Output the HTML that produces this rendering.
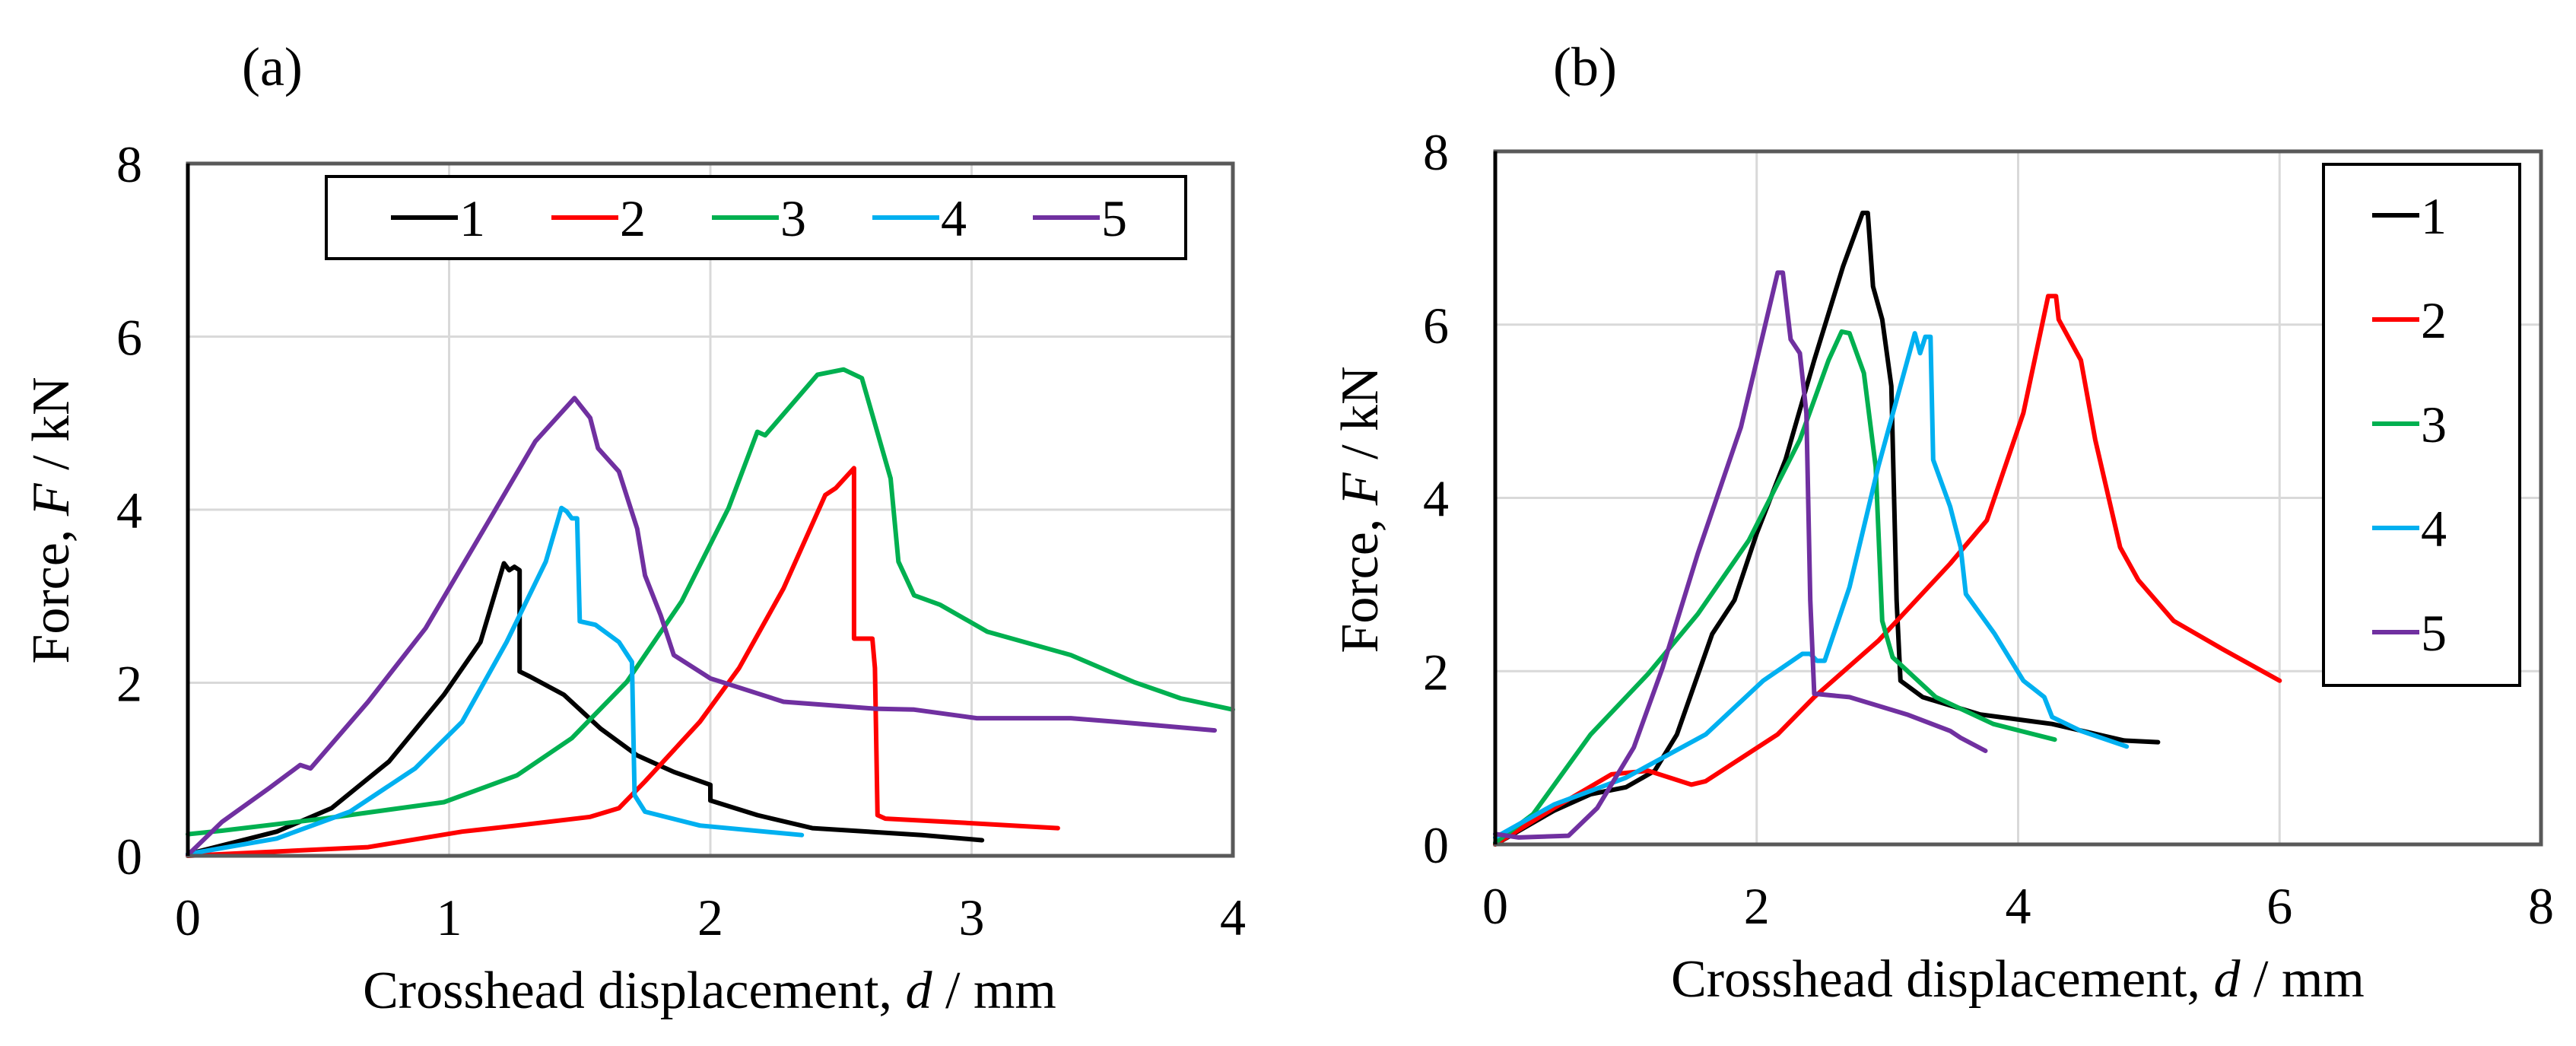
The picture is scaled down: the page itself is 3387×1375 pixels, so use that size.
<!DOCTYPE html>
<html><head><meta charset="utf-8"><style>
html,body{margin:0;padding:0;background:#fff;}
svg{display:block;font-family:"Liberation Serif","Noto Serif CJK SC",serif;}
</style></head><body>
<svg id="fig" width="3387" height="1375" viewBox="0 0 3387 1375" xmlns="http://www.w3.org/2000/svg">
<rect width="3387" height="1375" fill="#fff"/>
</svg>
<script>
const seriesNames=["1","2","3","4","5"];
const seriesColors=["#000000","#ff0000","#00b050","#00b0f0","#7030a0"];
const aXTicks=[0,1,2,3,4];
const aYTicks=[0,2,4,6,8];
const bXTicks=[0,2,4,6,8];
const bYTicks=[0,2,4,6,8];
const a1x=[0,0.34,0.55,0.77,0.98,1.12,1.21,1.23,1.25,1.27,1.27,1.31,1.44,1.58,1.72,1.86,2.0,2.0,2.18,2.39,2.81,3.04];
const a1y=[0.02,0.28,0.55,1.09,1.86,2.47,3.38,3.3,3.34,3.3,2.13,2.07,1.86,1.47,1.16,0.97,0.82,0.64,0.47,0.32,0.24,0.18];
const a2x=[0,0.69,1.05,1.26,1.54,1.65,1.75,1.96,2.11,2.28,2.44,2.48,2.55,2.55,2.62,2.63,2.64,2.67,2.92,3.33];
const a2y=[0,0.1,0.28,0.35,0.45,0.55,0.86,1.55,2.17,3.09,4.17,4.25,4.48,2.51,2.51,2.17,0.47,0.43,0.39,0.32];
const a3x=[0,0.13,0.52,0.98,1.26,1.47,1.68,1.89,2.07,2.18,2.21,2.41,2.51,2.58,2.69,2.72,2.78,2.88,3.06,3.38,3.62,3.8,4.0];
const a3y=[0.25,0.29,0.43,0.62,0.93,1.36,2.01,2.94,4.02,4.9,4.86,5.56,5.62,5.52,4.36,3.4,3.01,2.9,2.59,2.32,2.01,1.82,1.69];
const a4x=[0,0.34,0.62,0.87,1.05,1.22,1.37,1.43,1.45,1.47,1.49,1.5,1.56,1.65,1.7,1.71,1.75,1.96,2.35];
const a4y=[0.02,0.2,0.51,1.01,1.55,2.47,3.4,4.02,3.98,3.9,3.9,2.71,2.67,2.47,2.24,0.7,0.51,0.35,0.24];
const a5x=[0,0.13,0.31,0.43,0.47,0.69,0.91,1.15,1.33,1.48,1.54,1.57,1.65,1.72,1.75,1.81,1.86,2.0,2.28,2.63,2.78,3.02,3.38,3.55,3.93];
const a5y=[0.01,0.39,0.78,1.05,1.01,1.78,2.63,3.86,4.79,5.29,5.06,4.71,4.44,3.78,3.24,2.78,2.32,2.05,1.78,1.7,1.69,1.59,1.59,1.55,1.45];
const b1x=[0,0.45,0.73,1.0,1.22,1.39,1.66,1.83,2.0,2.22,2.44,2.66,2.81,2.85,2.89,2.96,3.03,3.07,3.1,3.27,3.71,4.26,4.81,5.07];
const b1y=[0,0.39,0.58,0.66,0.85,1.27,2.43,2.82,3.59,4.44,5.59,6.67,7.29,7.29,6.44,6.06,5.29,2.82,1.89,1.7,1.5,1.39,1.2,1.18];
const b2x=[0,0.45,0.89,1.17,1.5,1.61,2.16,2.44,2.93,3.48,3.76,4.04,4.23,4.29,4.31,4.48,4.59,4.78,4.92,5.19,5.58,6.0];
const b2y=[0,0.42,0.81,0.85,0.69,0.73,1.27,1.7,2.35,3.24,3.74,4.98,6.33,6.33,6.06,5.59,4.67,3.43,3.05,2.58,2.24,1.89];
const b3x=[0,0.29,0.73,1.17,1.55,1.94,2.33,2.55,2.65,2.71,2.82,2.91,2.96,3.04,3.37,3.81,4.28];
const b3y=[0.02,0.35,1.27,1.97,2.66,3.51,4.67,5.59,5.92,5.9,5.44,4.36,2.58,2.16,1.7,1.39,1.21];
const b4x=[0,0.45,1.0,1.61,2.05,2.35,2.41,2.46,2.52,2.71,2.93,3.21,3.25,3.29,3.33,3.35,3.48,3.56,3.6,3.82,4.04,4.2,4.26,4.48,4.83];
const b4y=[0.08,0.46,0.77,1.27,1.89,2.2,2.2,2.12,2.12,2.97,4.36,5.9,5.67,5.86,5.86,4.44,3.9,3.43,2.89,2.43,1.89,1.7,1.47,1.31,1.13];
const b5x=[0,0.18,0.56,0.78,1.06,1.28,1.55,1.88,2.16,2.2,2.26,2.33,2.38,2.41,2.44,2.71,3.15,3.48,3.56,3.75];
const b5y=[0.12,0.08,0.1,0.42,1.12,2.04,3.36,4.82,6.6,6.6,5.83,5.67,4.98,2.82,1.74,1.7,1.5,1.31,1.23,1.08];

const NS="http://www.w3.org/2000/svg";
const svg=document.getElementById('fig');
function mk(tag,attrs,parent){const e=document.createElementNS(NS,tag);for(const k in attrs)e.setAttribute(k,attrs[k]);(parent||svg).appendChild(e);return e;}

function drawChart(cfg){
  const g=mk('g',{});
  
  
  const sx=v=>cfg.L+(v-cfg.xmin)/(cfg.xmax-cfg.xmin)*(cfg.R-cfg.L);
  const sy=v=>cfg.B-(v-cfg.ymin)/(cfg.ymax-cfg.ymin)*(cfg.B-cfg.T);
  cfg.xt.forEach(t=>{
    if(t>cfg.xmin&&t<cfg.xmax){const l=mk('line',{x1:sx(t),x2:sx(t),y1:cfg.T,y2:cfg.B,stroke:'#d9d9d9','stroke-width':3},g);
    
    }
    const tx=mk('text',{x:sx(t),y:cfg.B+104,'font-size':68,'text-anchor':'middle'},g);tx.textContent=t;
    
    
  });
  cfg.yt.forEach(t=>{
    if(t>cfg.ymin&&t<cfg.ymax){const l=mk('line',{x1:cfg.L,x2:cfg.R,y1:sy(t),y2:sy(t),stroke:'#d9d9d9','stroke-width':3},g);
    
    }
    const tx=mk('text',{x:cfg.ylx,y:sy(t)+24,'font-size':68,'text-anchor':'middle'},g);tx.textContent=t;
    
    
  });
  cfg.series.forEach((s,i)=>{
    const pts=s[0].map((x,j)=>sx(x).toFixed(1)+','+sy(s[1][j]).toFixed(1)).join(' ');
    const p=mk('polyline',{points:pts,fill:'none',stroke:seriesColors[i],'stroke-width':6,'stroke-linejoin':'round','stroke-linecap':'round'},g);
    
    
  });
  const fr=mk('rect',{x:cfg.L,y:cfg.T,width:cfg.R-cfg.L,height:cfg.B-cfg.T,fill:'none',stroke:'#595959','stroke-width':5},g);
  
  
  const ax=mk('line',{x1:cfg.L,x2:cfg.L,y1:cfg.T,y2:cfg.B,stroke:'#000','stroke-width':5},g);
  
  
  // legend
  const lg=mk('g',{},g);
  
  
  const lb=cfg.leg;
  mk('rect',{x:lb.x,y:lb.y,width:lb.w,height:lb.h,fill:'#fff',stroke:'#000','stroke-width':4},lg);
  seriesNames.forEach((n,i)=>{
    const e=mk('g',{},lg);
    
    
    const ex=lb.ex(i), ey=lb.ey(i);
    mk('line',{x1:ex,x2:ex+lb.ll,y1:ey,y2:ey,stroke:seriesColors[i],'stroke-width':6},e);
    const t=mk('text',{x:ex+lb.ll+2,y:ey+24,'font-size':68},e);t.textContent=n;
  });
  const xt=mk('text',{x:cfg.xtx,y:cfg.xty,'font-size':70,'text-anchor':'middle'},g);
  xt.innerHTML='Crosshead displacement, <tspan font-style="italic">d</tspan> / mm';
  
  
  const yt=mk('text',{x:0,y:0,'font-size':70,'text-anchor':'middle',transform:'translate('+cfg.ytx+','+cfg.yty+') rotate(-90)'},g);
  yt.innerHTML='Force, <tspan font-style="italic">F</tspan> / kN';
  
  
  const pt=mk('text',{x:cfg.px,y:112,'font-size':72},g);
  pt.textContent=cfg.label;
  
  
}

drawChart({id:'chart-a',L:247,R:1621,T:215,B:1125,xmin:0,xmax:4,ymin:0,ymax:8,xt:aXTicks,yt:aYTicks,ylx:170,
  series:[[a1x,a1y],[a2x,a2y],[a3x,a3y],[a4x,a4y],[a5x,a5y]],
  leg:{x:429,y:232,w:1130,h:108,ll:88,ex:i=>514+i*211,ey:i=>286},
  xtx:933,xty:1325,ytx:90,yty:684,px:318,label:'(a)'});
drawChart({id:'chart-b',L:1966,R:3341,T:199,B:1110,xmin:0,xmax:8,ymin:0,ymax:8,xt:bXTicks,yt:bYTicks,ylx:1888,
  series:[[b1x,b1y],[b2x,b2y],[b3x,b3y],[b4x,b4y],[b5x,b5y]],
  leg:{x:3055,y:216,w:258,h:685,ll:62,ex:i=>3119,ey:i=>283+i*137},
  xtx:2653,xty:1310,ytx:1811,yty:670,px:2042,label:'(b)'});
</script>
</body></html>
